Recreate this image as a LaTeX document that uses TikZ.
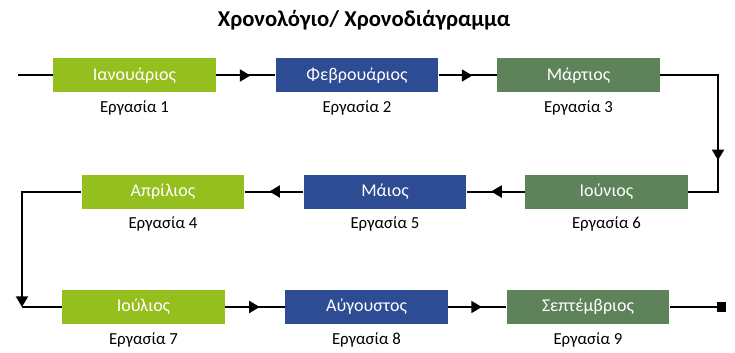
\documentclass[tikz,border=0pt]{standalone}
\usepackage{fontspec}
\setmainfont{Carlito}
\usetikzlibrary{positioning, arrows.meta, decorations.markings}
\definecolor{monA}{RGB}{149,190,31}
\definecolor{monB}{RGB}{45,76,148}
\definecolor{monC}{RGB}{94,131,91}
\tikzset{
  month/.style   ={minimum width=122pt, minimum height=25.5pt, inner sep=0pt,
                   text=white, font=\fontsize{13.5}{15}\selectfont},
  M1/.style      ={month, fill=monA},
  M2/.style      ={month, fill=monB},
  M3/.style      ={month, fill=monC},
  task/.style    ={font=\fontsize{12.6}{14}\selectfont, inner sep=2pt},
  flow/.style    ={black, line width=1.5pt},
  tipT/.tip      ={Triangle[length=8pt, width=9pt]},
  midarrow/.style={flow, postaction={decorate},
                   decoration={markings,
                     mark=at position #1 with {\arrow{tipT}}}},
}

\begin{document}
\begin{tikzpicture}[x=0.75pt, y=-0.75pt]
\useasboundingbox (0,0) rectangle (735,353);

\node[font=\fontsize{17}{19}\selectfont\bfseries] (title) at (364, 20)
  {Χρονολόγιο/ Χρονοδιάγραμμα};

% first row, left to right
\node[M1] (jan) at (134.5, 75.5) {Ιανουάριος};
\node[M2] (feb) at (357,   75.5) {Φεβρουάριος};
\node[M3] (mar) at (578.5, 75.5) {Μάρτιος};
\node[task, below=4pt of jan] (t1) {Εργασία 1};
\node[task, below=4pt of feb] (t2) {Εργασία 2};
\node[task, below=4pt of mar] (t3) {Εργασία 3};

% second row, right to left
\node[M1] (apr) at (163,   191.5) {Απρίλιος};
\node[M2] (may) at (385,   191.5) {Μάιος};
\node[M3] (jun) at (606.5, 191.5) {Ιούνιος};
\node[task, below=4pt of apr] (t4) {Εργασία 4};
\node[task, below=4pt of may] (t5) {Εργασία 5};
\node[task, below=4pt of jun] (t6) {Εργασία 6};

% third row, left to right
\node[M1] (jul) at (143.5, 307) {Ιούλιος};
\node[M2] (aug) at (366.5, 307) {Αύγουστος};
\node[M3] (sep) at (588,   307) {Σεπτέμβριος};
\node[task, below=4pt of jul] (t7) {Εργασία 7};
\node[task, below=4pt of aug] (t8) {Εργασία 8};
\node[task, below=4pt of sep] (t9) {Εργασία 9};

% turning points
\coordinate (start) at (18,  75.5);
\coordinate (cR1)   at (718, 75.5);
\coordinate (cR2)   at (718, 191.5);
\coordinate (cL1)   at (22,  191.5);
\coordinate (cL2)   at (22,  307);
\coordinate (stop)  at (726, 307);

\draw[flow] (start) -- (jan);
\draw[midarrow=0.58] (jan) -- (feb);
\draw[midarrow=0.58] (feb) -- (mar);
\draw[midarrow=0.70] (mar) -- (cR1) -- (cR2) -- (jun);
\draw[midarrow=0.58] (jun) -- (may);
\draw[midarrow=0.58] (may) -- (apr);
\draw[flow, -tipT] (apr) -- (cL1) -- (cL2);
\draw[flow] (cL2) -- (jul);
\draw[midarrow=0.58] (jul) -- (aug);
\draw[midarrow=0.58] (aug) -- (sep);
\draw[flow, -{Square[length=7pt, width=7pt]}] (sep) -- (stop);

\end{tikzpicture}
\end{document}
